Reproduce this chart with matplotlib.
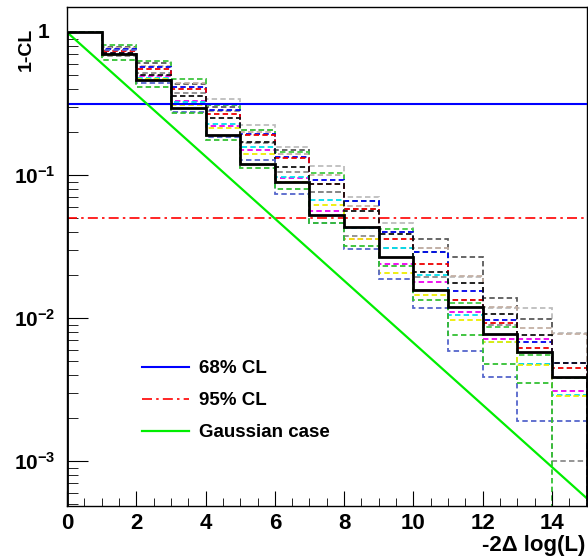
import numpy as np
import matplotlib
matplotlib.use("Agg")
import matplotlib.pyplot as plt
from matplotlib.ticker import MultipleLocator, FixedLocator, FuncFormatter, LogLocator
from matplotlib.lines import Line2D

plt.rcParams['font.family'] = ['Liberation Sans', 'DejaVu Sans']
plt.rcParams['font.weight'] = 'bold'
plt.rcParams['mathtext.fontset'] = 'custom'
plt.rcParams['mathtext.rm'] = 'Liberation Sans:bold'
plt.rcParams['mathtext.bf'] = 'Liberation Sans:bold'
plt.rcParams['mathtext.it'] = 'Liberation Sans:bold'

# bin edges of -2 delta log(L)
edges = np.arange(0, 16)

# observed 1-CL (black solid)
observed = [1.0, 0.70, 0.464, 0.297, 0.191, 0.119, 0.090, 0.0525, 0.0437,
            0.027, 0.0158, 0.0119, 0.0078, 0.0058, 0.0039]

# toy curves (dashed), one list per colour
toys = {
    '#bdbdbd': [1.0, 0.815, 0.633, 0.469, 0.340, 0.225, 0.158, 0.116, 0.070,
                0.046, 0.031, 0.0195, 0.0118, 0.0118, 0.0079],
    '#5a5a5a': [1.0, 0.786, 0.607, 0.435, 0.299, 0.207, 0.150, 0.0768, 0.058,
                0.040, 0.0359, 0.027, 0.0138, 0.0099, 0.0038],
    '#c4b0a4': [1.0, 0.78, 0.58, 0.44, 0.31, 0.20, 0.14, 0.10, 0.061,
                0.040, 0.031, 0.0197, 0.012, 0.0085, 0.0078],
    '#8c8c8c': [1.0, 0.683, 0.52, 0.3745, 0.28, 0.1675, 0.105, 0.0768, 0.0376,
                0.0312, 0.0195, 0.0134, 0.009, 0.0048, 0.001],
    '#44cc44': [1.0, 0.815, 0.633, 0.47, 0.31, 0.207, 0.145, 0.103, 0.066,
                0.0421, 0.029, 0.0127, 0.0087, 0.0055, 0.0038],
    '#0000ee': [1.0, 0.76, 0.569, 0.417, 0.286, 0.194, 0.134, 0.0927, 0.066,
                0.040, 0.029, 0.0156, 0.0098, 0.0068, 0.0049],
    '#ee0000': [1.0, 0.74, 0.551, 0.40, 0.27, 0.19, 0.132, 0.0865, 0.058,
                0.0357, 0.0239, 0.0134, 0.0092, 0.0062, 0.0045],
    '#ee00ee': [1.0, 0.713, 0.497, 0.332, 0.22, 0.149, 0.0953, 0.0563, 0.0357,
                0.024, 0.018, 0.011, 0.0072, 0.0072, 0.0031],
    '#00e0ee': [1.0, 0.70, 0.48, 0.326, 0.2285, 0.157, 0.097, 0.0672, 0.0426,
                0.0312, 0.020, 0.0106, 0.0068, 0.0048, 0.0029],
    '#eeee00': [1.0, 0.69, 0.47, 0.31, 0.215, 0.14, 0.09, 0.062, 0.0357,
                0.0206, 0.0145, 0.0098, 0.0068, 0.0047, 0.00285],
    '#111111': [1.0, 0.72, 0.50, 0.36, 0.25, 0.17, 0.115, 0.0865, 0.0563,
                0.0387, 0.0212, 0.0176, 0.0107, 0.0077, 0.0049],
    '#5566cc': [1.0, 0.745, 0.444, 0.278, 0.185, 0.128, 0.0736, 0.0466, 0.0307,
                0.0187, 0.0118, 0.0059, 0.0039, 0.0019, 0.0019],
    '#33c033': [1.0, 0.64, 0.417, 0.274, 0.177, 0.112, 0.08, 0.0466, 0.032,
                0.0232, 0.0134, 0.0077, 0.0048, 0.0035, 0.0],
}

# reference levels
cl68 = 0.317
cl95 = 0.05
gauss_x = [0, 15]
gauss_y = [1.0, 5.53e-4]

fig = plt.figure(figsize=(5.88, 5.56), dpi=100)
ax = fig.add_axes([67 / 588, 1 - 506 / 556, (586.6 - 67) / 588, (506 - 7) / 556])
ax.set_yscale('log', nonpositive='clip')

for col, vals in toys.items():
    ax.stairs(vals, edges, color=col, lw=1.3, linestyle=(0, (3.0, 1.8)))

ax.stairs(observed, edges, color='black', lw=2.0, zorder=5)

ax.axhline(cl68, color='#0000ff', lw=1.5, zorder=4)
ax.axhline(cl95, color='#ff0000', lw=1.2, linestyle=(0, (6, 2.5, 1.5, 2.5)), zorder=4)
ax.plot(gauss_x, gauss_y, color='#00ee00', lw=1.6, zorder=4)

ax.set_xlim(0, 15)
ax.set_ylim(4.87e-4, 1.5)

ax.xaxis.set_major_locator(FixedLocator(range(0, 15, 2)))
ax.xaxis.set_minor_locator(MultipleLocator(0.5))
ax.yaxis.set_major_locator(FixedLocator([1e-3, 1e-2, 1e-1, 1]))
ax.yaxis.set_minor_locator(LogLocator(base=10, subs=np.arange(2, 10)))
ax.yaxis.set_minor_formatter(plt.NullFormatter())


def ylab(v, pos):
    # "1" is drawn separately, lined up with the mantissa of the other labels
    if v >= 1:
        return ''
    return r'$\mathbf{10^{%d}}$' % int(round(np.log10(v)))


ax.yaxis.set_major_formatter(FuncFormatter(ylab))
ax.annotate('1', xy=(0, 1), xycoords=('axes fraction', 'data'),
            xytext=(-12.5, 0), textcoords='offset points',
            ha='right', va='center', fontsize=15, fontweight='bold')
ax.tick_params(which='both', direction='in', top=False, right=False, labelsize=15)
ax.tick_params(axis='x', which='major', length=11, pad=5, labelsize=16)
ax.tick_params(axis='x', which='minor', length=6)
ax.tick_params(axis='y', which='major', length=15, pad=8)
ax.tick_params(axis='y', which='minor', length=8)
for lab in ax.get_xticklabels() + ax.get_yticklabels():
    lab.set_fontweight('bold')
for sp in ax.spines.values():
    sp.set_linewidth(1.0)

fig.text(585 / 588, 1 - 545 / 556, '-2\u0394 log(L)', ha='right', va='center',
         fontsize=16, fontweight='bold')
fig.text(26 / 588, 1 - 49 / 556, '1-CL', rotation=90, ha='center', va='center',
         fontsize=14, fontweight='bold')

handles = [
    Line2D([], [], color='#0000ff', lw=1.5),
    Line2D([], [], color='#ff0000', lw=1.2, linestyle=(0, (6, 2.5, 1.5, 2.5))),
    Line2D([], [], color='#00ee00', lw=1.6),
]
fig.legend(handles, ['68% CL', '95% CL', 'Gaussian case'], loc='upper left',
           bbox_to_anchor=(142 / 588, 1 - 360 / 556), frameon=False,
           handlelength=2.5, handletextpad=0.55,
           labelspacing=0.8, borderpad=0, borderaxespad=0,
           prop={'weight': 'bold', 'size': 13.5})

fig.savefig('out.png', dpi=100, facecolor='white')
